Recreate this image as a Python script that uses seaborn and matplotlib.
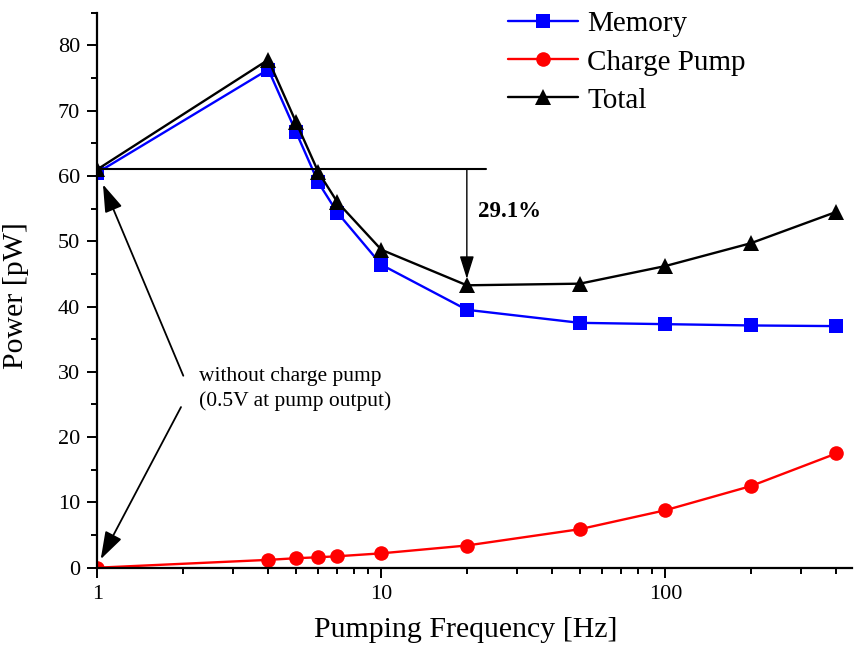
import matplotlib
matplotlib.use("Agg")
import matplotlib.pyplot as plt
import seaborn as sns
import pandas as pd

# Pumping frequency sweep [Hz]
freq = [1, 4, 5, 6, 7, 10, 20, 50, 100, 200, 400]
# Power components [pW]
memory = [60.5, 76.3, 66.8, 59.0, 54.4, 46.4, 39.5, 37.5, 37.3, 37.1, 37.0]
charge_pump = [0.0, 1.2, 1.45, 1.6, 1.75, 2.2, 3.4, 5.9, 8.8, 12.5, 17.5]
total = [61.0, 77.8, 68.3, 60.6, 56.0, 48.7, 43.25, 43.5, 46.2, 49.7, 54.5]

series_names = ["Memory", "Charge Pump", "Total"]
series_colors = ["#0000ff", "#ff0000", "#000000"]
series_markers = ["s", "o", "^"]
series_msize = [9.5, 10.5, 11]

df = pd.DataFrame({"freq": freq, "Memory": memory,
                   "Charge Pump": charge_pump, "Total": total})

sns.set_theme(style="ticks")
plt.rcParams["font.family"] = ["Liberation Serif", "DejaVu Serif"]

fig = plt.figure(figsize=(8.55, 6.45), dpi=100)
ax = fig.add_axes([97.3 / 855, 1 - 567.7 / 645, (852 - 97.3) / 855, (567.7 - 12.7) / 645])

for name, col, mk, ms in zip(series_names, series_colors, series_markers, series_msize):
    sns.lineplot(data=df, x="freq", y=name, ax=ax, color=col, marker=mk,
                 markersize=ms, markeredgewidth=0, linewidth=1.7, label=name)

ax.set_xscale("log")
ax.set_xlim(1, 454)
ax.set_ylim(0, 85)
ax.set_yticks([0, 10, 20, 30, 40, 50, 60, 70, 80])
ax.set_yticks([5, 15, 25, 35, 45, 55, 65, 75, 85], minor=True)
ax.set_xticks([1, 10, 100])
ax.set_xticklabels(["1", "10", "100"])
ax.set_xticks([2, 3, 4, 5, 6, 7, 8, 9, 20, 30, 40, 50, 60, 70, 80, 90,
               200, 300, 400], minor=True)
ax.xaxis.set_minor_formatter(matplotlib.ticker.NullFormatter())

for side in ["top", "right"]:
    ax.spines[side].set_visible(False)
for side in ["left", "bottom"]:
    ax.spines[side].set_linewidth(1.6)
    ax.spines[side].set_color("black")

ax.tick_params(which="major", direction="out", length=7.5, width=1.4,
               labelsize=16, colors="black", pad=5)
ax.tick_params(which="minor", direction="out", length=4.5, width=1.4, colors="black")

ax.set_xlabel("Pumping Frequency [Hz]", fontsize=21.5, color="black")
ax.set_ylabel("Power [pW]", fontsize=21.5, color="black")
ax.xaxis.set_label_coords(0.488, -0.088)
ax.yaxis.set_label_coords(-0.09, 0.49)

# Reference level and reduction arrow at 20 Hz
ref_level = total[0]
min_total = total[freq.index(20)]
ax.plot([1, 23.4], [ref_level, ref_level], color="black", lw=1.5, clip_on=False)
ax.annotate("", xy=(20, min_total + 1.0), xytext=(20, ref_level),
            arrowprops=dict(arrowstyle="-|>,head_length=0.7,head_width=0.22",
                            color="black", lw=1.0, shrinkA=0, shrinkB=0,
                            mutation_scale=20))
reduction = (ref_level - min_total) / ref_level * 100
ax.text(21.9, 54.5, f"{reduction:.1f}%", fontsize=16.5, fontweight="bold",
        ha="left", va="center", color="black")

# Note pointing at the case without charge pump
ax.text(2.28, 27.4, "without charge pump\n(0.5V at pump output)", fontsize=15.5,
        ha="left", va="center", linespacing=1.35, color="black")
ax.annotate("", xy=(1.047, 58.7), xytext=(2.008, 29.4),
            arrowprops=dict(arrowstyle="-|>,head_length=0.85,head_width=0.28",
                            color="black", lw=1.3, shrinkA=0, shrinkB=0,
                            mutation_scale=20))
ax.annotate("", xy=(1.028, 1.3), xytext=(1.971, 24.6),
            arrowprops=dict(arrowstyle="-|>,head_length=0.85,head_width=0.28",
                            color="black", lw=1.3, shrinkA=0, shrinkB=0,
                            mutation_scale=20))

leg = ax.legend(loc="upper left", bbox_to_anchor=(508.3 / 855, 1 - 11 / 645),
                bbox_transform=fig.transFigure, frameon=False, fontsize=21,
                handlelength=2.4, handletextpad=0.3, labelspacing=0.4,
                borderpad=0, borderaxespad=0)
for t in leg.get_texts():
    t.set_color("black")

fig.savefig("out.png", dpi=100)
